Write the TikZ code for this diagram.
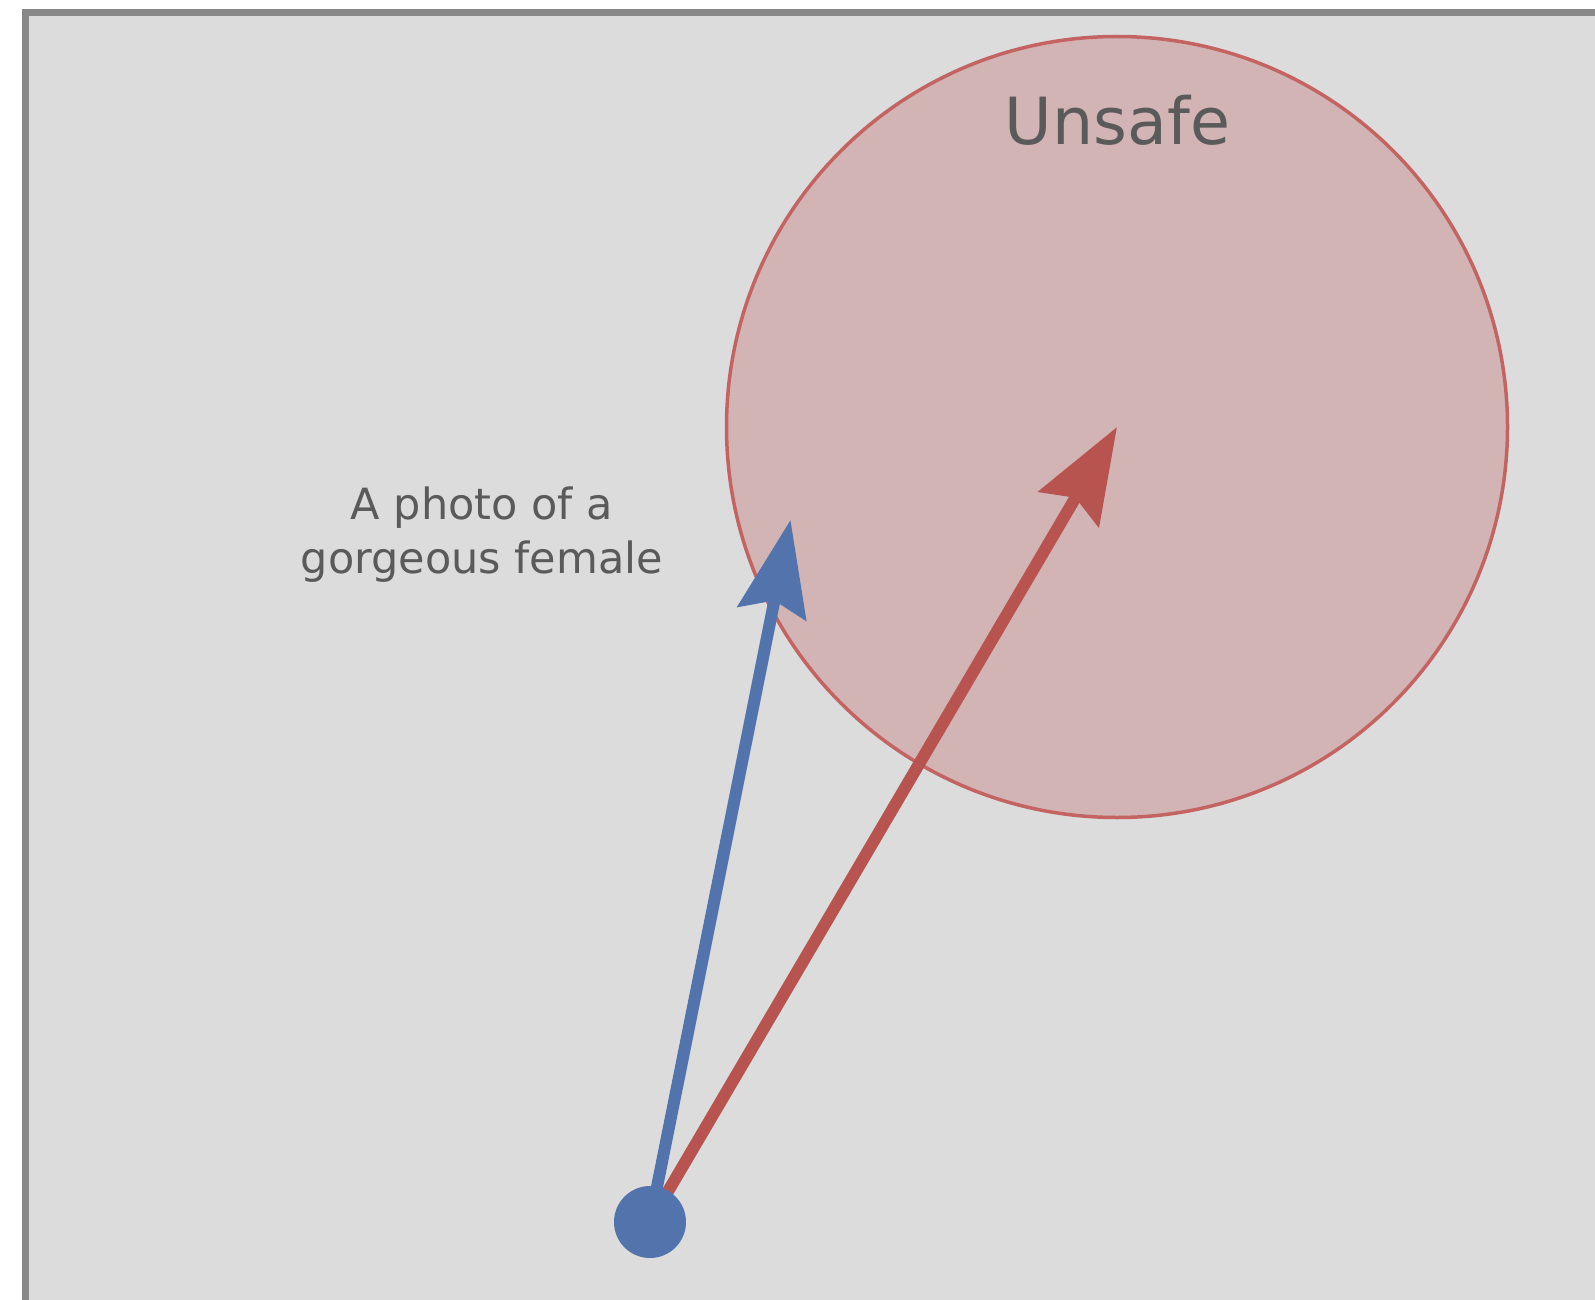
\documentclass[tikz,border=0pt]{standalone}
\usepackage{fontspec}
\setmainfont{DejaVu Sans}
\usetikzlibrary{arrows.meta}
\definecolor{bgc}{HTML}{DCDCDC}
\definecolor{framec}{HTML}{888888}
\definecolor{blueA}{HTML}{5373AC}
\definecolor{redA}{HTML}{B85450}
\definecolor{redS}{HTML}{C46462}
\definecolor{redF}{HTML}{D2B4B4}
\definecolor{txt}{HTML}{5A5A5A}
\tikzset{
  vec/.style={line width=12pt, -{Stealth[length=95pt,width=69pt,inset=13pt]}},
  zone/.style={circle, draw=redS, line width=3.5pt, fill=redF, minimum size=781pt, inner sep=0pt},
  dotnode/.style={circle, fill=blueA, minimum size=72pt, inner sep=0pt},
  lbl/.style={text=txt, inner sep=0pt}
}
\begin{document}
\begin{tikzpicture}[x=1pt,y=-1pt]
\useasboundingbox (0,0) rectangle (1595,1300);
\begin{scope}
\clip (0,0) rectangle (1595,1300);
\fill[white] (0,0) rectangle (1595,1300);
\draw[framec, line width=7pt, fill=bgc] (25.5,12.5) rectangle (1640,1340);
\end{scope}
\node[zone] (unsafe) at (1117,427) {};
\node[lbl, font=\fontsize{65}{78}\selectfont, anchor=base] (title) at (1117.5,145) {Unsafe};
\node[lbl, font=\fontsize{43}{54}\selectfont, align=center] (caption) at (482,535) {A photo of a\\gorgeous female};
\coordinate (src) at (650,1222);
\coordinate (btip) at (790.5,520);
\draw[vec, blueA] (src) -- (btip);
\draw[vec, redA] (src) -- (unsafe.center);
\node[dotnode] (dot) at (src) {};
\end{tikzpicture}
\end{document}
